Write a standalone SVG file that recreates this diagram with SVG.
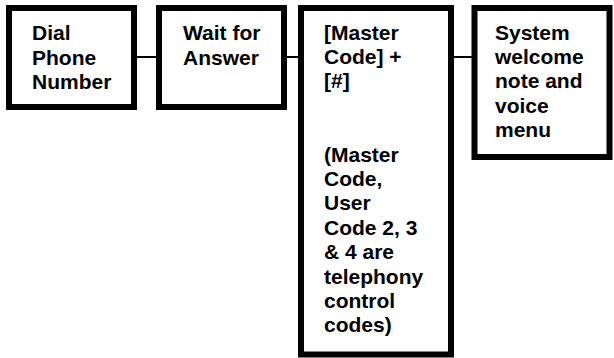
<svg xmlns="http://www.w3.org/2000/svg" width="614" height="358" viewBox="0 0 614 358">
<style>
.box{fill:#fff;stroke:#000;stroke-width:6}
.t{font-family:"Liberation Sans",Arial,sans-serif;font-weight:bold;font-size:21px;fill:#000}
.c{stroke:#000;stroke-width:2;fill:none}
</style>
<rect width="614" height="358" fill="#fff"/>
<g id="connectors">
<line class="c" x1="137" y1="57" x2="156" y2="57"/>
<line class="c" x1="287" y1="57" x2="298" y2="57"/>
<line class="c" x1="454" y1="57" x2="472" y2="57"/>
</g>
<g id="n1">
<rect class="box" x="9" y="8" width="125" height="99"/>
<text class="t" x="32"><tspan x="32" y="40">Dial</tspan><tspan x="32" y="64.5">Phone</tspan><tspan x="32" y="89">Number</tspan></text>
</g>
<g id="n2">
<rect class="box" x="159" y="8" width="125" height="99"/>
<text class="t"><tspan x="183" y="40">Wait for</tspan><tspan x="183" y="64.5">Answer</tspan></text>
</g>
<g id="n3">
<rect class="box" x="301" y="8" width="150" height="346.5"/>
<text class="t"><tspan x="324" y="39.5">[Master</tspan><tspan x="324" y="63.9">Code] +</tspan><tspan x="324" y="88.3">[#]</tspan><tspan x="324" y="161.5">(Master</tspan><tspan x="324" y="185.9">Code,</tspan><tspan x="324" y="210.3">User</tspan><tspan x="324" y="234.7">Code 2, 3</tspan><tspan x="324" y="259.1">&amp; 4 are</tspan><tspan x="324" y="283.5">telephony</tspan><tspan x="324" y="307.9">control</tspan><tspan x="324" y="332.3">codes)</tspan></text>
</g>
<g id="n4">
<rect class="box" x="474.5" y="8" width="135" height="149"/>
<text class="t"><tspan x="495" y="39.5">System</tspan><tspan x="495" y="63.9">welcome</tspan><tspan x="495" y="88.3">note and</tspan><tspan x="495" y="112.7">voice</tspan><tspan x="495" y="137.1">menu</tspan></text>
</g>
</svg>
